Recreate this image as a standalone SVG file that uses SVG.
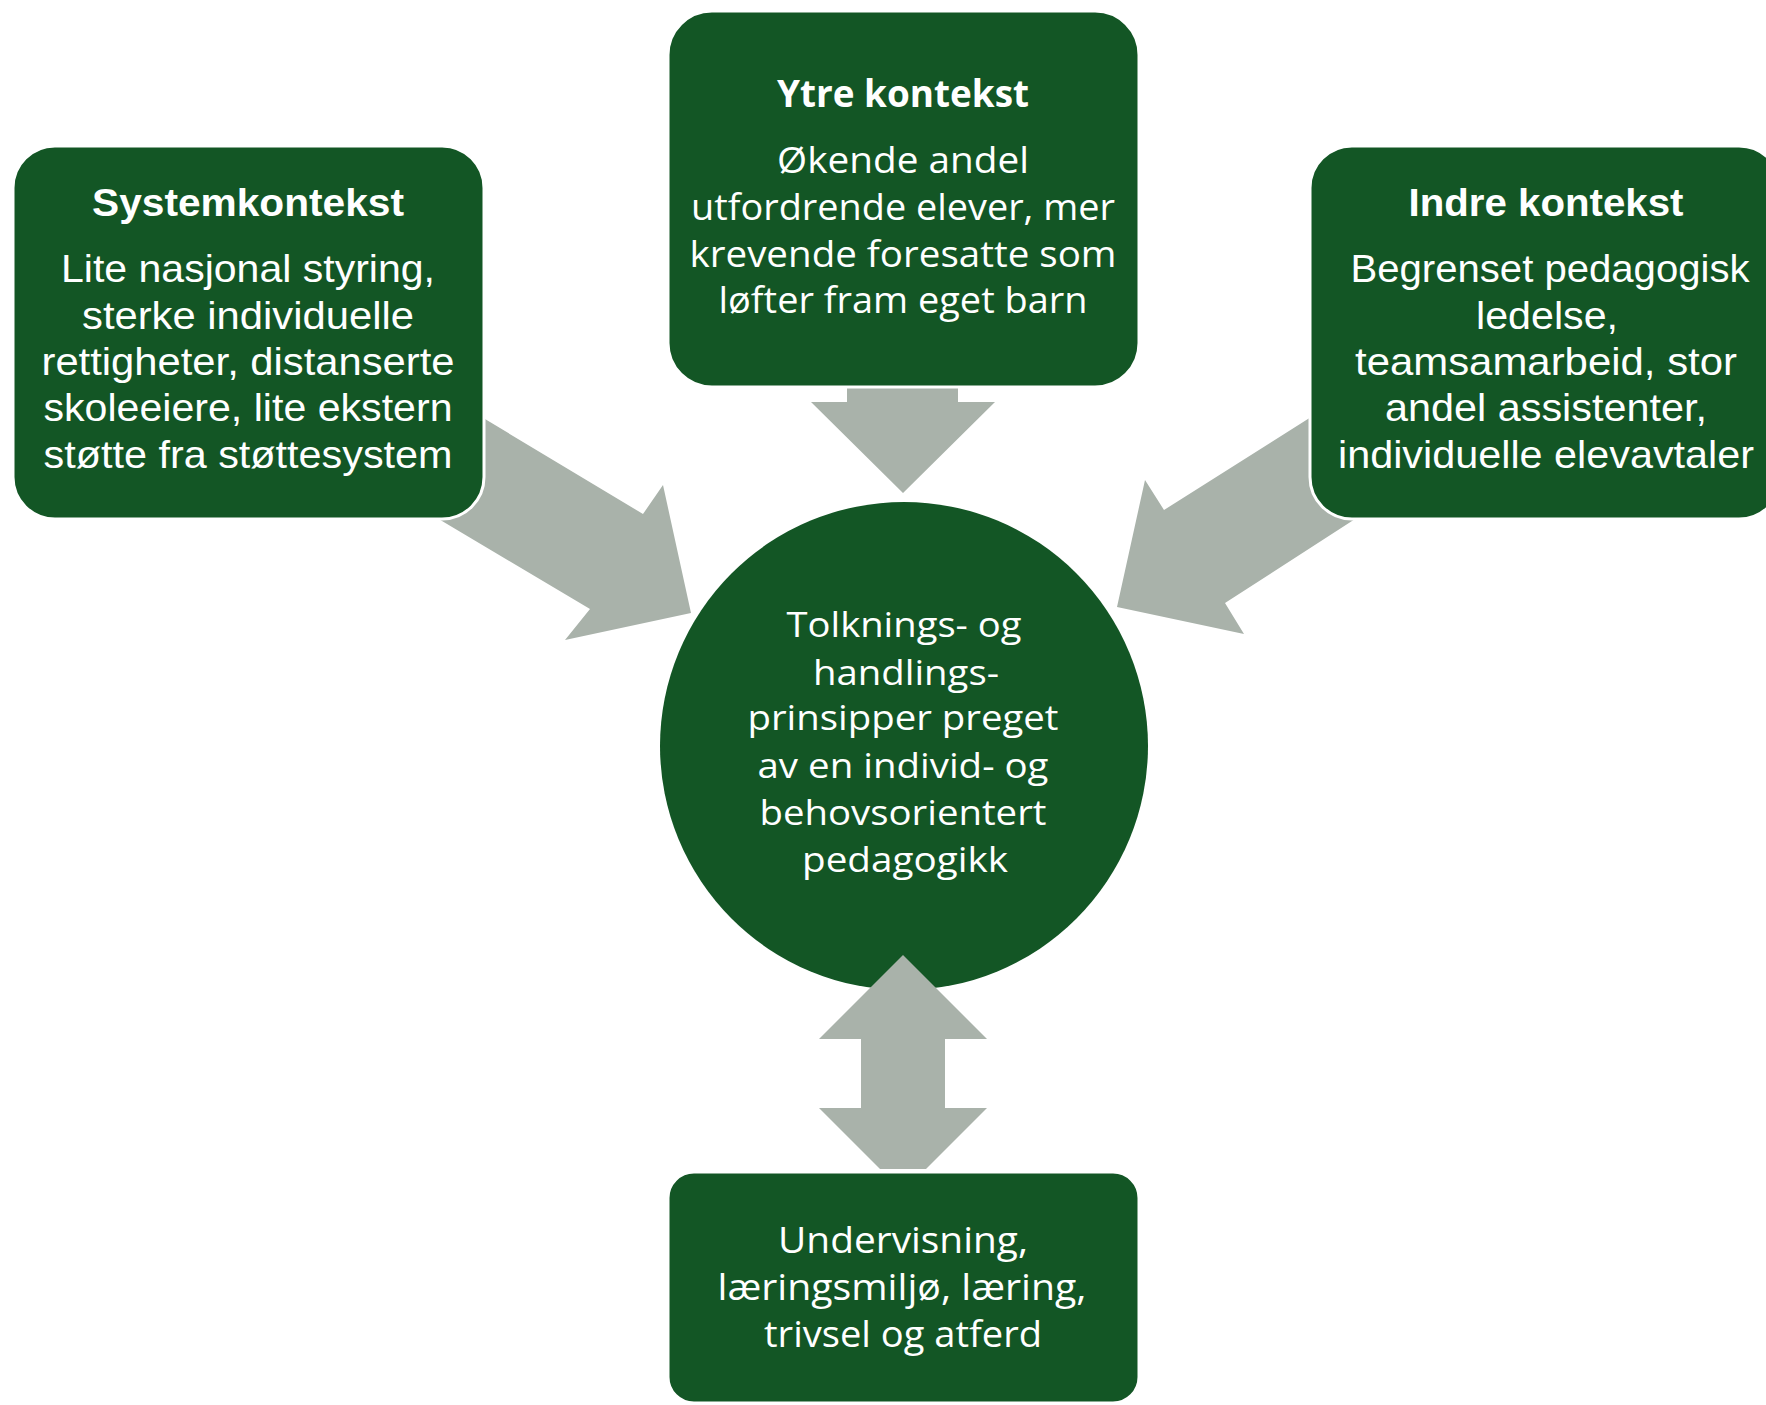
<svg xmlns="http://www.w3.org/2000/svg" width="1766" height="1405" viewBox="0 0 1766 1405">
<defs>
<style>
.box{fill:#135625;stroke:#ffffff;stroke-width:3}
.arrow{fill:#a9b2aa}
.t{fill:#ffffff;font-family:"Open Sans","Liberation Sans",sans-serif;font-size:37px;text-anchor:middle}
.c{font-size:35px}
.n{fill:#ffffff;font-family:"Liberation Sans",Arial,sans-serif;font-size:39px;text-anchor:middle}
.b{font-weight:bold}
</style>
</defs>
<rect width="1766" height="1405" fill="#ffffff"/>
<g id="connectors">
<polygon class="arrow" points="420,380 643,514 663,485 691,613 565,640 590,609 363,474"/>
<polygon class="arrow" points="1390,367 1164,510 1145,480 1117,607 1244,634 1225,603 1448,459"/>
<polygon class="arrow" points="847,380 958,380 958,402 995,402 903,493 811,402 847,402"/>
</g>
<g id="node-system">
<rect class="box" x="13" y="146" width="471" height="373" rx="42"/>
<text class="n b" x="248" y="216" textLength="312" lengthAdjust="spacingAndGlyphs">Systemkontekst</text>
<text class="n" x="248" y="282" textLength="374" lengthAdjust="spacingAndGlyphs">Lite nasjonal styring,</text>
<text class="n" x="248" y="329" textLength="332" lengthAdjust="spacingAndGlyphs">sterke individuelle</text>
<text class="n" x="248" y="375" textLength="413" lengthAdjust="spacingAndGlyphs">rettigheter, distanserte</text>
<text class="n" x="248" y="421" textLength="409" lengthAdjust="spacingAndGlyphs">skoleeiere, lite ekstern</text>
<text class="n" x="248" y="468" textLength="409" lengthAdjust="spacingAndGlyphs">støtte fra støttesystem</text>
</g>
<g id="node-ytre">
<rect class="box" x="668" y="11" width="471" height="376" rx="44"/>
<text class="t b" x="903" y="107" textLength="252" lengthAdjust="spacingAndGlyphs">Ytre kontekst</text>
<text class="t" x="903" y="173" textLength="252" lengthAdjust="spacingAndGlyphs">Økende andel</text>
<text class="t" x="903" y="220" textLength="424" lengthAdjust="spacingAndGlyphs">utfordrende elever, mer</text>
<text class="t" x="903" y="267" textLength="427" lengthAdjust="spacingAndGlyphs">krevende foresatte som</text>
<text class="t" x="903" y="313" textLength="369" lengthAdjust="spacingAndGlyphs">løfter fram eget barn</text>
</g>
<g id="node-indre">
<rect class="box" x="1310" y="146" width="471" height="373" rx="42"/>
<text class="n b" x="1546" y="216" textLength="275" lengthAdjust="spacingAndGlyphs">Indre kontekst</text>
<text class="n" x="1550" y="282" textLength="399" lengthAdjust="spacingAndGlyphs">Begrenset pedagogisk</text>
<text class="n" x="1547" y="329" textLength="142" lengthAdjust="spacingAndGlyphs">ledelse,</text>
<text class="n" x="1546" y="375" textLength="382" lengthAdjust="spacingAndGlyphs">teamsamarbeid, stor</text>
<text class="n" x="1546" y="421" textLength="322" lengthAdjust="spacingAndGlyphs">andel assistenter,</text>
<text class="n" x="1546" y="468" textLength="416" lengthAdjust="spacingAndGlyphs">individuelle elevavtaler</text>
</g>
<g id="node-center">
<circle cx="904" cy="746" r="244" fill="#135625"/>
<text class="t c" x="904" y="637" textLength="235" lengthAdjust="spacingAndGlyphs">Tolknings- og</text>
<text class="t c" x="906" y="685" textLength="186" lengthAdjust="spacingAndGlyphs">handlings-</text>
<text class="t c" x="903" y="730" textLength="311" lengthAdjust="spacingAndGlyphs">prinsipper preget</text>
<text class="t c" x="903" y="778" textLength="291" lengthAdjust="spacingAndGlyphs">av en individ- og</text>
<text class="t c" x="903" y="825" textLength="287" lengthAdjust="spacingAndGlyphs">behovsorientert</text>
<text class="t c" x="905" y="872" textLength="206" lengthAdjust="spacingAndGlyphs">pedagogikk</text>
</g>
<g id="node-bottom">
<rect class="box" x="668" y="1172" width="471" height="231" rx="26"/>
<text class="t" x="903" y="1253" textLength="250" lengthAdjust="spacingAndGlyphs">Undervisning,</text>
<text class="t" x="902" y="1300" textLength="369" lengthAdjust="spacingAndGlyphs">læringsmiljø, læring,</text>
<text class="t" x="903" y="1347" textLength="278" lengthAdjust="spacingAndGlyphs">trivsel og atferd</text>
</g>
<g id="connectors-front">
<polygon class="arrow" points="903,955 987,1039 945,1039 945,1108 987,1108 926,1169 880,1169 819,1108 861,1108 861,1039 819,1039"/>
</g>
</svg>
